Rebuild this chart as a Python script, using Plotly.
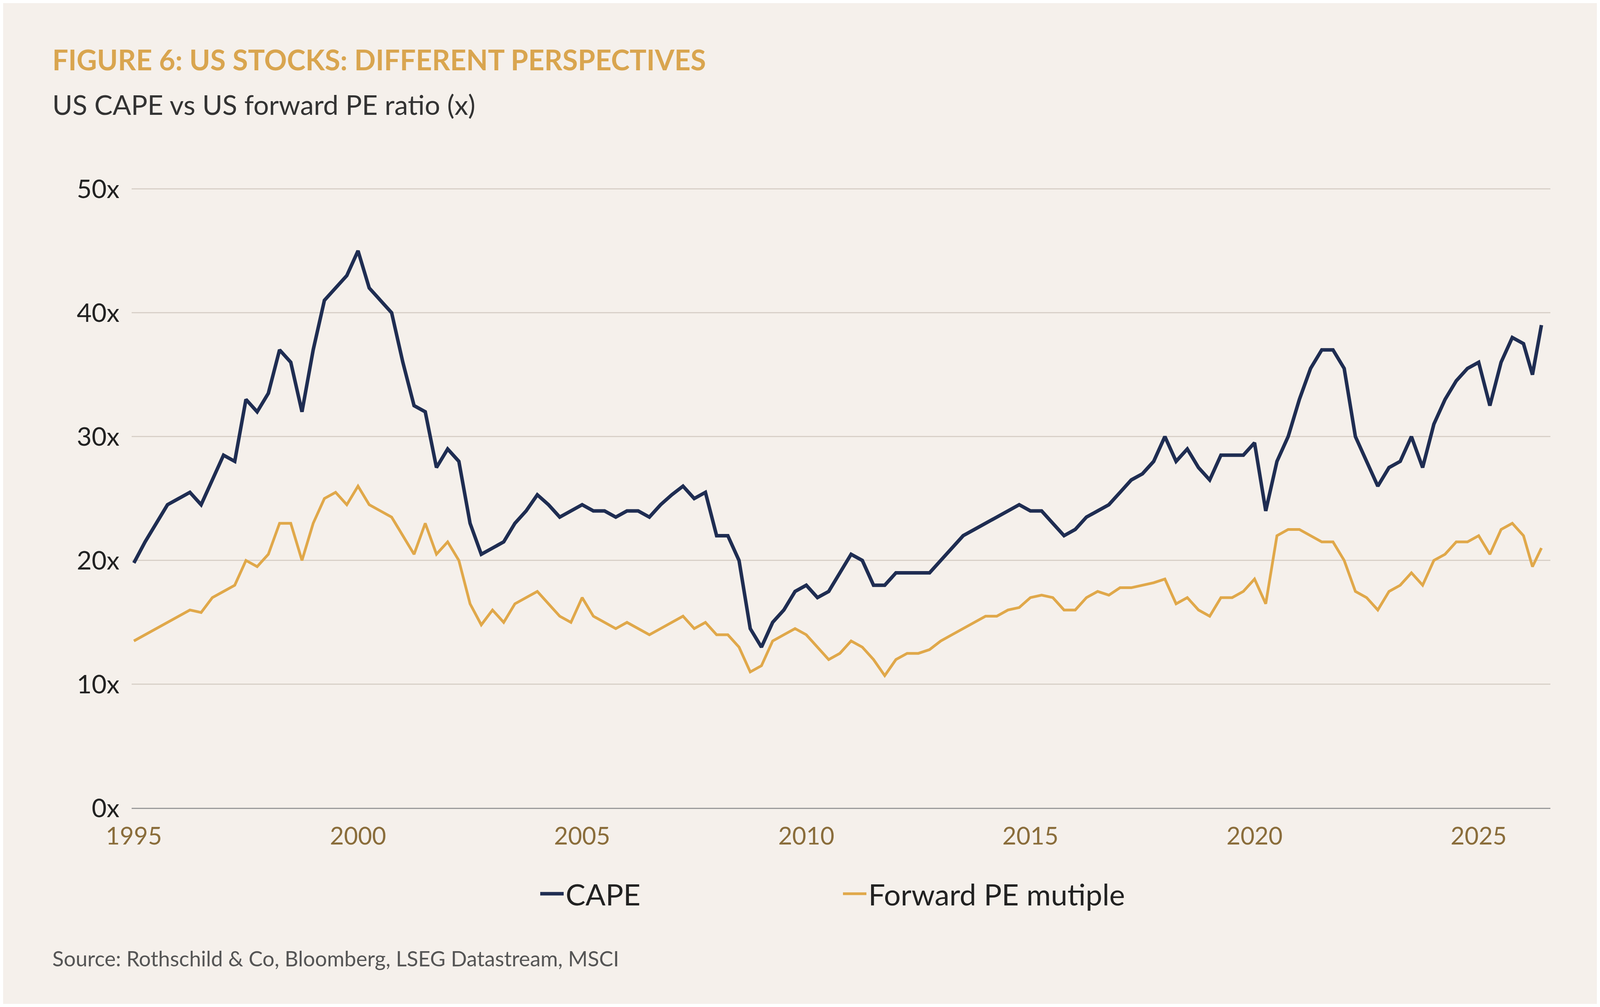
import plotly.graph_objects as go

years = [1995.0, 1995.25, 1995.5, 1995.75, 1996.0, 1996.25, 1996.5, 1996.75, 1997.0, 1997.25, 1997.5, 1997.75,
         1998.0, 1998.25, 1998.5, 1998.75, 1999.0, 1999.25, 1999.5, 1999.75, 2000.0, 2000.25, 2000.5, 2000.75,
         2001.0, 2001.25, 2001.5, 2001.75, 2002.0, 2002.25, 2002.5, 2002.75, 2003.0, 2003.25, 2003.5, 2003.75,
         2004.0, 2004.25, 2004.5, 2004.75, 2005.0, 2005.25, 2005.5, 2005.75, 2006.0, 2006.25, 2006.5, 2006.75,
         2007.0, 2007.25, 2007.5, 2007.75, 2008.0, 2008.25, 2008.5, 2008.75, 2009.0, 2009.25, 2009.5, 2009.75,
         2010.0, 2010.25, 2010.5, 2010.75, 2011.0, 2011.25, 2011.5, 2011.75, 2012.0, 2012.25, 2012.5, 2012.75,
         2013.0, 2013.25, 2013.5, 2013.75, 2014.0, 2014.25, 2014.5, 2014.75, 2015.0, 2015.25, 2015.5, 2015.75,
         2016.0, 2016.25, 2016.5, 2016.75, 2017.0, 2017.25, 2017.5, 2017.75, 2018.0, 2018.25, 2018.5, 2018.75,
         2019.0, 2019.25, 2019.5, 2019.75, 2020.0, 2020.25, 2020.5, 2020.75, 2021.0, 2021.25, 2021.5, 2021.75,
         2022.0, 2022.25, 2022.5, 2022.75, 2023.0, 2023.25, 2023.5, 2023.75, 2024.0, 2024.25, 2024.5, 2024.75,
         2025.0, 2025.25, 2025.5, 2025.75, 2026.0, 2026.2, 2026.4]

cape = [19.8, 21.5, 23, 24.5, 25, 25.5, 24.5, 26.5, 28.5, 28, 33, 32,
        33.5, 37, 36, 32, 37, 41, 42, 43, 45, 42, 41, 40,
        36, 32.5, 32, 27.5, 29, 28, 23, 20.5, 21, 21.5, 23, 24,
        25.3, 24.5, 23.5, 24, 24.5, 24, 24, 23.5, 24, 24, 23.5, 24.5,
        25.3, 26, 25, 25.5, 22, 22, 20, 14.5, 13, 15, 16, 17.5,
        18, 17, 17.5, 19, 20.5, 20, 18, 18, 19, 19, 19, 19,
        20, 21, 22, 22.5, 23, 23.5, 24, 24.5, 24, 24, 23, 22,
        22.5, 23.5, 24, 24.5, 25.5, 26.5, 27, 28, 30, 28, 29, 27.5,
        26.5, 28.5, 28.5, 28.5, 29.5, 24, 28, 30, 33, 35.5, 37, 37,
        35.5, 30, 28, 26, 27.5, 28, 30, 27.5, 31, 33, 34.5, 35.5,
        36, 32.5, 36, 38, 37.5, 35, 39]

fwd_pe = [13.5, 14, 14.5, 15, 15.5, 16, 15.8, 17, 17.5, 18, 20, 19.5,
          20.5, 23, 23, 20, 23, 25, 25.5, 24.5, 26, 24.5, 24, 23.5,
          22, 20.5, 23, 20.5, 21.5, 20, 16.5, 14.8, 16, 15, 16.5, 17,
          17.5, 16.5, 15.5, 15, 17, 15.5, 15, 14.5, 15, 14.5, 14, 14.5,
          15, 15.5, 14.5, 15, 14, 14, 13, 11, 11.5, 13.5, 14, 14.5,
          14, 13, 12, 12.5, 13.5, 13, 12, 10.7, 12, 12.5, 12.5, 12.8,
          13.5, 14, 14.5, 15, 15.5, 15.5, 16, 16.2, 17, 17.2, 17, 16,
          16, 17, 17.5, 17.2, 17.8, 17.8, 18, 18.2, 18.5, 16.5, 17, 16,
          15.5, 17, 17, 17.5, 18.5, 16.5, 22, 22.5, 22.5, 22, 21.5, 21.5,
          20, 17.5, 17, 16, 17.5, 18, 19, 18, 20, 20.5, 21.5, 21.5,
          22, 20.5, 22.5, 23, 22, 19.5, 21]

x_ticks = [1995, 2000, 2005, 2010, 2015, 2020, 2025]
y_ticks = [0, 10, 20, 30, 40, 50]

font = "Lato"
bg = "#f5f0eb"
navy = "#1f2d52"
gold = "#e0a84a"

fig = go.Figure()
fig.add_trace(go.Scatter(x=years, y=cape, name="CAPE", mode="lines", line=dict(color=navy, width=9)))
fig.add_trace(go.Scatter(x=years, y=fwd_pe, name="Forward PE mutiple", mode="lines", line=dict(color=gold, width=7)))

fig.update_layout(
    autosize=True,
    paper_bgcolor=bg, plot_bgcolor=bg,
    margin=dict(l=329, r=119, t=466, b=501),
    font=dict(family=font, color="#333333", size=64),
    showlegend=True,
    legend=dict(orientation="h", x=0.5, xanchor="center", yref="container", y=0.11, yanchor="middle",
                font=dict(size=76, color="#222222"), bgcolor="rgba(0,0,0,0)", itemwidth=60),
    xaxis=dict(range=[1994.95, 2026.6], tickmode="array", tickvals=x_ticks, ticktext=[str(t) for t in x_ticks],
               showgrid=False, zeroline=False, showline=False, tickfont=dict(size=62, color="#8a6d3b"), ticks="",
               ticklabelstandoff=30),
    yaxis=dict(range=[0, 50.3], tickmode="array", tickvals=y_ticks, ticktext=[f"{t}x" for t in y_ticks],
               showgrid=True, gridcolor="#d8d0c8", gridwidth=3, zeroline=True, zerolinecolor="#9a9a9a", zerolinewidth=3,
               tickfont=dict(size=66, color="#222222"), ticklabelstandoff=30),
    annotations=[
        dict(text="<b>FIGURE 6: US STOCKS: DIFFERENT PERSPECTIVES</b>", xref="paper", yref="paper",
             x=-0.0564, y=1.202, xanchor="left", yanchor="middle", showarrow=False,
             font=dict(size=72, color="#d9a54f", family=font)),
        dict(text="US CAPE vs US forward PE ratio (x)", xref="paper", yref="paper",
             x=-0.0564, y=1.13, xanchor="left", yanchor="middle", showarrow=False,
             font=dict(size=70, color="#333333", family=font)),
        dict(text="Source: Rothschild & Co, Bloomberg, LSEG Datastream, MSCI", xref="paper", yref="paper",
             x=-0.0564, y=-0.241, xanchor="left", yanchor="middle", showarrow=False,
             font=dict(size=54, color="#555555", family=font)),
    ],
)
fig.update_layout(legend_entrywidth=700, legend_entrywidthmode="pixels")
fig.data[0].legendwidth = None

fig.write_html("out.html")
